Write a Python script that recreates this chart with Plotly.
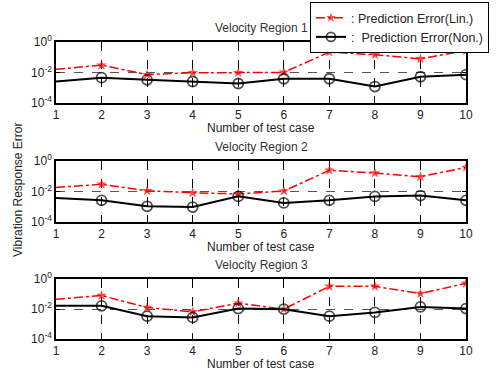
import plotly.graph_objects as go

cases = [1, 2, 3, 4, 5, 6, 7, 8, 9, 10]

# log10 values
lin_r1 = [-1.79, -1.52, -2.14, -2.01, -2.01, -1.99, -0.66, -0.84, -1.10, -0.57]
non_r1 = [-2.59, -2.34, -2.48, -2.59, -2.72, -2.41, -2.41, -2.92, -2.28, -2.14]
lin_r2 = [-1.73, -1.53, -1.95, -2.08, -2.16, -1.97, -0.61, -0.79, -1.03, -0.42]
non_r2 = [-2.43, -2.58, -2.97, -3.02, -2.32, -2.75, -2.58, -2.32, -2.27, -2.58]
lin_r3 = [-1.35, -1.10, -1.90, -2.19, -1.61, -2.01, -0.49, -0.49, -0.97, -0.29]
non_r3 = [-1.79, -1.79, -2.48, -2.56, -1.97, -2.01, -2.48, -2.23, -1.86, -1.97]

titles = ["Velocity Region 1", "Velocity Region 2", "Velocity Region 3"]
ytick_vals = [1e-4, 1e-2, 1]
ytick_text = ["10<sup>-4</sup>", "10<sup>-2</sup>", "10<sup>0</sup>"]
names = [": Prediction Error(Lin.)", ":  Prediction Error(Non.)"]

series = [(lin_r1, non_r1), (lin_r2, non_r2), (lin_r3, non_r3)]

FONT = "Liberation Sans, Arial, sans-serif"
W, H = 496, 378
L, R, T, B = 56, 30, 42, 39
plot_h = H - T - B
plot_w = W - L - R
panels_px = [(42, 103), (161, 222), (279, 339)]

fig = go.Figure()
mk_sizes_star = [0] + [8] * 9
mk_sizes_circ = [0] + [10] * 9

layout = dict(
    width=W, height=H,
    margin=dict(l=L, r=R, t=T, b=B, autoexpand=False),
    paper_bgcolor="white", plot_bgcolor="white",
    font=dict(family=FONT, size=12, color="#222"),
    showlegend=True,
    legend=dict(
        x=(310 - L) / plot_w, y=(H - B - 2) / plot_h,
        xanchor="left", yanchor="top",
        bgcolor="white", bordercolor="black", borderwidth=1,
        font=dict(family=FONT, size=12.5, color="#222"),
        tracegroupgap=0,
    ),
    annotations=[],
)

for i, (lin, non) in enumerate(series):
    k = "" if i == 0 else str(i + 1)
    top, bot = panels_px[i]
    d0 = (H - B - bot) / plot_h
    d1 = (H - B - top) / plot_h
    xa = "x" + k
    ya = "y" + k
    fig.add_trace(go.Scatter(
        x=cases, y=[10 ** v for v in lin], xaxis=xa, yaxis=ya,
        mode="lines+markers", name=names[0], showlegend=(i == 0),
        line=dict(color="#ff0000", width=1.5, dash="dashdot"),
        marker=dict(symbol="star", size=mk_sizes_star, color="#ff0000",
                    line=dict(width=0)),
    ))
    fig.add_trace(go.Scatter(
        x=cases, y=[10 ** v for v in non], xaxis=xa, yaxis=ya,
        mode="lines+markers", name=names[1], showlegend=(i == 0),
        line=dict(color="black", width=2),
        marker=dict(symbol="circle-open", size=mk_sizes_circ, color="black",
                    line=dict(width=1.8, color="black")),
    ))
    layout["xaxis" + k] = dict(
        domain=[0, 1], anchor=ya, range=[1, 10],
        tickvals=cases, ticks="inside", ticklen=4, tickcolor="black",
        showline=True, linecolor="black", linewidth=1.5, mirror="ticks",
        showgrid=True, gridcolor="black", griddash="dash", gridwidth=1,
        zeroline=False, automargin=False,
        tickfont=dict(family=FONT, size=12, color="#222"),
    )
    layout["yaxis" + k] = dict(
        domain=[d0, d1], anchor=xa, type="log", range=[-4, 0],
        tickvals=ytick_vals, ticktext=ytick_text,
        ticks="inside", ticklen=4, tickcolor="black",
        showline=True, linecolor="black", linewidth=1.5, mirror="ticks",
        showgrid=True, gridcolor="#555", griddash="dash", gridwidth=1,
        zeroline=False, automargin=False,
        tickfont=dict(family=FONT, size=12, color="#222"),
    )
    layout["annotations"].append(dict(
        text=titles[i], xref="paper", yref="paper", x=0.5,
        y=d1 + 14 / plot_h, xanchor="center", yanchor="middle", showarrow=False,
        font=dict(family=FONT, size=12, color="#333"),
    ))
    layout["annotations"].append(dict(
        text="Number of test case", xref="paper", yref="paper", x=0.5,
        y=d0 - 25 / plot_h, xanchor="center", yanchor="middle", showarrow=False,
        font=dict(family=FONT, size=12, color="#222"),
    ))

layout["annotations"].append(dict(
    text="Vibration Response Error", xref="paper", yref="paper",
    x=-(L - 18) / plot_w, y=(H - B - 190) / plot_h, textangle=-90,
    xanchor="center", yanchor="middle", showarrow=False,
    font=dict(family=FONT, size=12, color="#222"),
))

fig.update_layout(**layout)
fig.write_html("out.html",
               config={"displayModeBar": False},
               post_script="document.body.style.margin='0px';")
